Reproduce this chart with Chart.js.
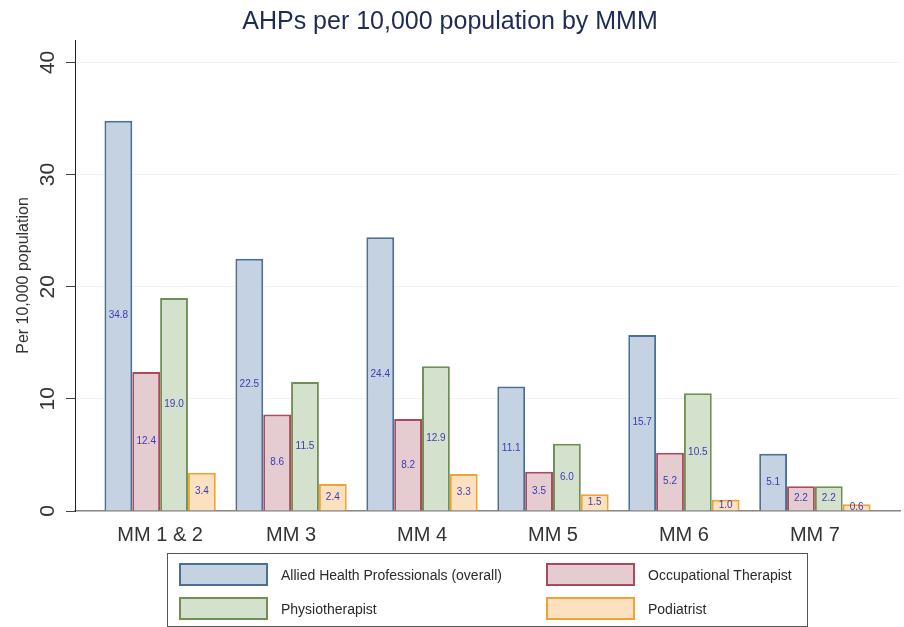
<!DOCTYPE html>
<html lang="en">
<head>
  <meta charset="UTF-8" />
  <title>AHPs per 10,000 population by MMM</title>
  <script src="https://cdn.jsdelivr.net/npm/chart.js"></script>
  <style>
    * { box-sizing: border-box; }
    body {
      margin: 0;
      background: #ffffff;
      font-family: 'Liberation Sans', Arial, sans-serif;
    }
    .wrap { position: relative; width: 904px; height: 627px; }
    canvas { position: absolute; left: 0; top: 0; }
    .legend {
      position: absolute;
      left: 167px;
      top: 553px;
      width: 641px;
      height: 74px;
      border: 1px solid #555;
      padding: 9px 0 0 11px;
      display: grid;
      grid-template-columns: 367px auto;
      grid-auto-rows: 23px;
      align-content: start;
      row-gap: 11px;
    }
    .legend-item { display: flex; align-items: center; height: 23px; }
    .swatch { width: 89px; height: 23px; border: 2px solid; margin-right: 13px; }
    .legend-item span { font-size: 14px; color: #2a2a2a; }
  </style>
</head>
<body>
  <div class="wrap">
    <canvas id="chart" width="904" height="627"></canvas>
    <div class="legend" id="legend"></div>
  </div>

  <script>
    // values
    const categories = ['MM 1 & 2', 'MM 3', 'MM 4', 'MM 5', 'MM 6', 'MM 7'];
    const ahpOverall = [34.8, 22.5, 24.4, 11.1, 15.7, 5.1];
    const occTherapist = [12.4, 8.6, 8.2, 3.5, 5.2, 2.2];
    const physio = [19.0, 11.5, 12.9, 6.0, 10.5, 2.2];
    const podiatrist = [3.4, 2.4, 3.3, 1.5, 1.0, 0.6];
    const yTicks = [0, 10, 20, 30, 40];

    const series = [
      { label: 'Allied Health Professionals (overall)', data: ahpOverall, fill: '#c4d2e1', line: '#4a6f98' },
      { label: 'Occupational Therapist', data: occTherapist, fill: '#e5ccd1', line: '#ab4a5c' },
      { label: 'Physiotherapist', data: physio, fill: '#d4e1cc', line: '#6f8f55' },
      { label: 'Podiatrist', data: podiatrist, fill: '#fce1c0', line: '#f0a232' }
    ];

    // labels in the middle of each bar
    const valueLabels = {
      id: 'valueLabels',
      afterDatasetsDraw(chart) {
        const ctx = chart.ctx;
        ctx.save();
        ctx.font = '10px "Liberation Sans", Arial, sans-serif';
        ctx.fillStyle = '#3b3bb5';
        ctx.textAlign = 'center';
        ctx.textBaseline = 'middle';
        chart.data.datasets.forEach((ds, i) => {
          chart.getDatasetMeta(i).data.forEach((bar, j) => {
            ctx.fillText(ds.data[j].toFixed(1), bar.x, (bar.y + bar.base) / 2);
          });
        });
        ctx.restore();
      }
    };

    new Chart(document.getElementById('chart'), {
      type: 'bar',
      data: {
        labels: categories,
        datasets: series.map(s => ({
          label: s.label,
          data: s.data,
          backgroundColor: s.fill,
          borderColor: s.line,
          borderWidth: 2,
          categoryPercentage: 0.85,
          barPercentage: 1
        }))
      },
      options: {
        responsive: false,
        animation: false,
        layout: { padding: { top: 0, right: 4, bottom: 76, left: 0 } },
        plugins: {
          legend: { display: false },
          tooltip: { enabled: false },
          title: {
            display: true,
            text: 'AHPs per 10,000 population by MMM',
            color: '#1f2b57',
            font: { size: 25, weight: 'normal', family: '"Liberation Sans", Arial, sans-serif' },
            padding: { top: 7, bottom: 3 }
          }
        },
        scales: {
          x: {
            grid: { display: false },
            border: { color: '#888', width: 1.5 },
            ticks: {
              color: '#333',
              padding: 4,
              font: { size: 20, family: '"Liberation Sans", Arial, sans-serif' }
            },
            // Stata leaves a gap before the first and after the last group
            afterBuildTicks: (scale) => {
              scale._startValue = -0.65;
              scale._valueRange = categories.length + 0.3;
            }
          },
          y: {
            min: 0,
            max: 42,
            border: { color: '#222', width: 1 },
            grid: { color: '#f7f2e9', tickColor: '#444', tickLength: 9 },
            afterBuildTicks: (scale) => {
              scale.ticks = yTicks.map(v => ({ value: v }));
            },
            afterFit: (scale) => { scale.width = 75; },
            ticks: {
              color: '#333',
              minRotation: 90,
              maxRotation: 90,
              crossAlign: 'center',
              padding: 6,
              font: { size: 21, family: '"Liberation Sans", Arial, sans-serif' }
            },
            title: {
              display: true,
              text: 'Per 10,000 population',
              color: '#333',
              padding: { top: 14, bottom: 0 },
              font: { size: 16, family: '"Liberation Sans", Arial, sans-serif' }
            }
          }
        }
      },
      plugins: [valueLabels]
    });

    // two-column framed legend
    const legend = document.getElementById('legend');
    series.forEach(s => {
      const item = document.createElement('div');
      item.className = 'legend-item';
      item.innerHTML = '<div class="swatch" style="background:' + s.fill + ';border-color:' + s.line + '"></div><span>' + s.label + '</span>';
      legend.appendChild(item);
    });
  </script>
</body>
</html>
